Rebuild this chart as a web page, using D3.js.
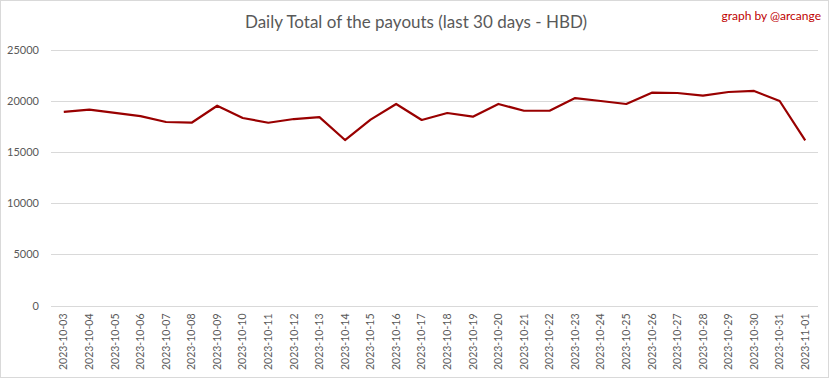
<!DOCTYPE html>
<html><head><meta charset="utf-8">
<script src="https://cdn.jsdelivr.net/npm/d3@7"></script>
<style>body{margin:0;background:#fff}svg{display:block}</style>
</head><body><svg id="c" width="833" height="379"></svg>
<script>
const dates = ["2023-10-03","2023-10-04","2023-10-05","2023-10-06","2023-10-07","2023-10-08","2023-10-09","2023-10-10","2023-10-11","2023-10-12","2023-10-13","2023-10-14","2023-10-15","2023-10-16","2023-10-17","2023-10-18","2023-10-19","2023-10-20","2023-10-21","2023-10-22","2023-10-23","2023-10-24","2023-10-25","2023-10-26","2023-10-27","2023-10-28","2023-10-29","2023-10-30","2023-10-31","2023-11-01"];
const payouts = [18900,19120,18820,18500,17920,17850,19510,18310,17850,18210,18400,16160,18150,19680,18115,18800,18440,19680,19020,19020,20260,19970,19680,20780,20750,20490,20850,20950,19970,16130];
const yTicks = [0,5000,10000,15000,20000,25000];
const title = "Daily Total of the payouts (last 30 days - HBD)";
const credit = "graph by @arcange";

const svg = d3.select("#c");
const font = "Lato, 'Open Sans', sans-serif";
svg.append("rect").attr("x",0.5).attr("y",0.5).attr("width",828).attr("height",377)
  .attr("fill","#fff").attr("stroke","#d9d9d9");

const m = {l:51, r:818, t:49.5, b:305.5};
const x = d3.scaleBand().domain(dates).range([m.l, m.r]);
const y = d3.scaleLinear().domain([0,25000]).range([m.b, m.t]);

svg.append("g").selectAll("line").data(yTicks).join("line")
  .attr("x1",m.l).attr("x2",m.r).attr("y1",d=>Math.round(y(d))+0.5).attr("y2",d=>Math.round(y(d))+0.5)
  .attr("stroke","#d9d9d9").attr("stroke-width",1);

const ya = svg.append("g").attr("transform",`translate(${m.l},0)`)
  .call(d3.axisLeft(y).tickValues(yTicks).tickSize(0).tickPadding(12).tickFormat(d3.format("d")));
ya.select(".domain").remove();
ya.selectAll("text").attr("fill","#595959").style("font-family",font).style("font-size","11px");

const xa = svg.append("g").attr("transform",`translate(0,${m.b})`)
  .call(d3.axisBottom(x).tickSize(0).tickPadding(0));
xa.select(".domain").remove();
xa.selectAll("text").attr("fill","#595959").style("font-family",font).style("font-size","10.5px")
  .attr("text-anchor","end").attr("transform","rotate(-90)").attr("dy","0.35em").attr("x",-8).attr("y",0);

const line = d3.line().x((d,i)=>x(dates[i])+x.bandwidth()/2).y(d=>y(d));
svg.append("path").datum(payouts).attr("d",line).attr("fill","none")
  .attr("stroke","#990000").attr("stroke-width",2.2).attr("stroke-linejoin","round");

svg.append("text").attr("x",416).attr("y",28).attr("text-anchor","middle")
  .attr("fill","#595959").style("font-family",font).style("font-size","17px").text(title);
svg.append("text").attr("x",821).attr("y",20).attr("text-anchor","end")
  .attr("fill","#c00000").style("font-family",font).style("font-size","12px").text(credit);
</script></body></html>
